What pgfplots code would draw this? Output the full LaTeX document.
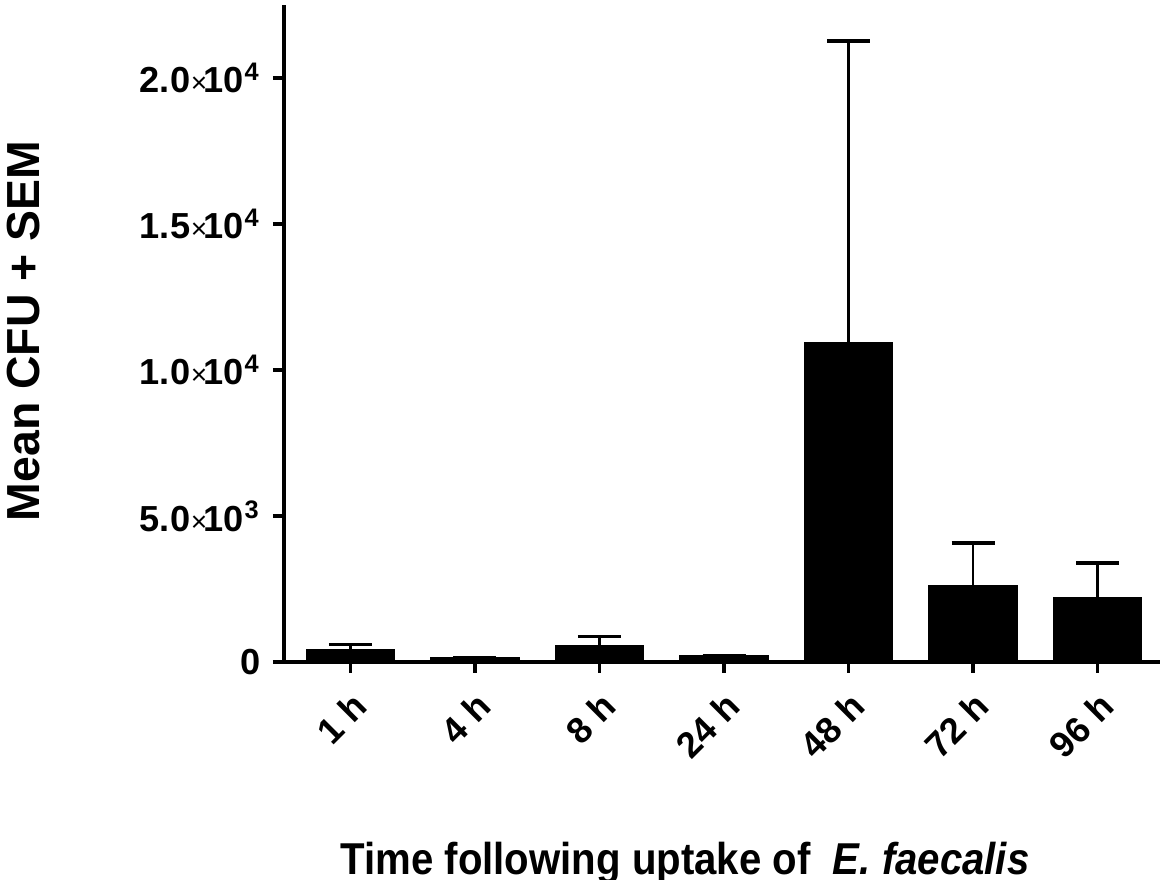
\documentclass[border=0pt]{standalone}
\usepackage{fontspec}
\setmainfont{Liberation Sans}
\usepackage{graphicx}
\usepackage{pgfplots}
\pgfplotsset{compat=1.18}
\newcommand{\tl}{\fontsize{10.3}{12}\selectfont\bfseries}
\newcommand{\sci}[2]{#1{\mdseries\footnotesize\hspace{0.03em}×\hspace{-0.15em}}10\textsuperscript{\hspace{0.05em}#2}}
\begin{document}
\begin{tikzpicture}
\useasboundingbox (-28.4mm,-21.8mm) rectangle (87.8mm,66.2mm);
\begin{axis}[
  at={(0,0)}, anchor=south west,
  scale only axis, width=87.6mm, height=65.7mm,
  xmin=284, xmax=1160, ymin=0, ymax=22500,
  axis x line*=bottom, axis y line*=left,
  axis line style={line width=1.2pt, black},
  tick style={line width=1.1pt, black},
  major tick length=1.1mm,
  tick align=outside,
  xtick={350.5,475,599.5,724,848.5,973,1097.5},
  xticklabels={1 h,4 h,8 h,24 h,48 h,72 h,96 h},
  x tick label style={rotate=45, anchor=north east, font=\tl},
  ytick={0,5000,10000,15000,20000},
  yticklabels={0,\sci{5.0}{3},\sci{1.0}{4},\sci{1.5}{4},\sci{2.0}{4}},
  y tick label style={font=\tl},
  scaled y ticks=false,
  clip=false,
]
\addplot[ybar, bar width=88, fill=black, draw=black,
  error bars/.cd, y dir=plus, y explicit,
  error bar style={line width=0.6pt, black},
  error mark options={rotate=90, mark size=2.15mm, line width=1pt, black}]
  table[x=x, y=y, y error=e] {
x y e
350.5 435 170
475 140 0
599.5 570 295
724 210 0
848.5 10925 10345
973 2600 1475
1097.5 2190 1200
};
\end{axis}
\node[rotate=90, font=\fontsize{13.2}{15}\selectfont\bfseries] at (-26mm,33.1mm) {Mean CFU + SEM};
\node[anchor=base, font=\fontsize{12.7}{15}\selectfont\bfseries] at (40.1mm,-21.3mm) {\scalebox{0.9}[1]{Time following uptake of \ \textit{E. faecalis}}};
\end{tikzpicture}
\end{document}
